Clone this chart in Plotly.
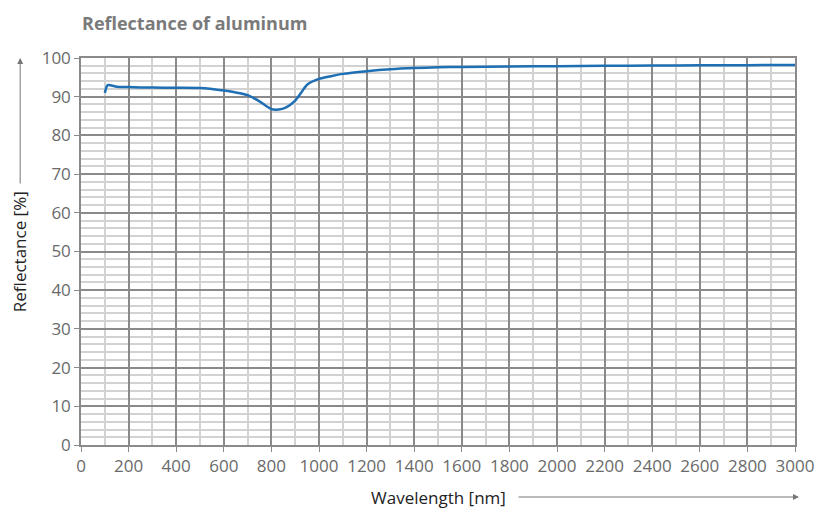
import plotly.graph_objects as go

# Data
wavelength_nm = [100, 112, 150, 200, 250, 300, 400, 500, 550, 600, 650, 700, 750, 800, 830, 860,
                 900, 930, 950, 1000, 1050, 1100, 1200, 1300, 1400, 1500, 1600, 1800, 2000,
                 2200, 2400, 2600, 2800, 3000]
reflectance_pct = [91.0, 93.0, 92.6, 92.5, 92.4, 92.35, 92.3, 92.25, 92.0, 91.6, 91.1, 90.4, 88.8,
                   86.8, 86.7, 87.2, 89.0, 91.5, 93.1, 94.6, 95.3, 95.9, 96.6, 97.1, 97.4, 97.6,
                   97.7, 97.8, 97.9, 98.0, 98.05, 98.1, 98.15, 98.2]

title_text = "Reflectance of aluminum"
x_title = "Wavelength [nm]"
y_title = "Reflectance [%]"

FONT = "Open Sans"
MAJOR = "#8a8a8a"
MINOR = "#d2d2d2"

fig = go.Figure()
fig.add_trace(go.Scatter(
    x=wavelength_nm, y=reflectance_pct, mode="lines",
    line=dict(color="#1f6fb4", width=2.5, shape="spline", smoothing=0.6),
    hoverinfo="skip", showlegend=False,
))

OFF = 8  # page body margin
W, H = 826 - OFF, 511 - OFF
L, R, T, B = 81 - OFF, 29, 58 - OFF, 66
pw, ph = W - L - R, H - T - B

fig.update_layout(
    width=W, height=H,
    margin=dict(l=L, r=R, t=T, b=B),
    paper_bgcolor="white", plot_bgcolor="white",
    font=dict(family=FONT, color="#6a6a6a", size=17),
    showlegend=False,
)
fig.update_xaxes(
    range=[0, 3000], tick0=0, dtick=200,
    showgrid=True, gridcolor=MAJOR, gridwidth=1.5,
    minor=dict(dtick=100, showgrid=True, gridcolor=MINOR, gridwidth=1.5, ticks=""),
    ticks="outside", ticklen=5, tickcolor=MAJOR, tickwidth=1,
    showline=True, linecolor=MAJOR, linewidth=1.5, mirror=True,
    zeroline=False,
    tickfont=dict(family=FONT, size=17, color="#6a6a6a"),
)
fig.update_yaxes(
    range=[0, 100], tick0=0, dtick=10,
    showgrid=True, gridcolor=MAJOR, gridwidth=1.5,
    minor=dict(dtick=2, showgrid=True, gridcolor=MINOR, gridwidth=1.5, ticks=""),
    ticks="outside", ticklen=5, tickcolor=MAJOR, tickwidth=1,
    showline=True, linecolor=MAJOR, linewidth=1.5, mirror=True,
    zeroline=False,
    tickfont=dict(family=FONT, size=17, color="#6a6a6a"),
)

# convert reference page pixels to paper coordinates
def px_x(p):
    return (p - OFF - L) / pw

def px_y(p):
    return (H - B - (p - OFF)) / ph

annotations = [
    dict(text=f"<b>{title_text}</b>", xref="paper", yref="paper",
         x=px_x(80), y=px_y(8.5), xanchor="left", yanchor="top", showarrow=False,
         font=dict(family=FONT, size=18, color="#7a7a7a")),
    dict(text=y_title, xref="paper", yref="paper", x=px_x(20), y=px_y(252),
         xanchor="center", yanchor="middle", textangle=-90, showarrow=False,
         font=dict(family=FONT, size=17, color="#222222")),
    dict(text=x_title, xref="paper", yref="paper", x=px_x(440), y=px_y(497),
         xanchor="center", yanchor="middle", showarrow=False,
         font=dict(family=FONT, size=17, color="#222222")),
    # y arrow
    dict(text="", xref="paper", yref="paper", x=px_x(20), y=px_y(58),
         ax=0, ay=127, axref="pixel", ayref="pixel", showarrow=True,
         arrowhead=2, arrowsize=1.2, arrowwidth=1, arrowcolor="#777777"),
    # x arrow
    dict(text="", xref="paper", yref="paper", x=px_x(801), y=px_y(497),
         ax=-282, ay=0, axref="pixel", ayref="pixel", showarrow=True,
         arrowhead=2, arrowsize=1.2, arrowwidth=1, arrowcolor="#777777"),
]
fig.update_layout(annotations=annotations)

fig.write_html("out.html")
